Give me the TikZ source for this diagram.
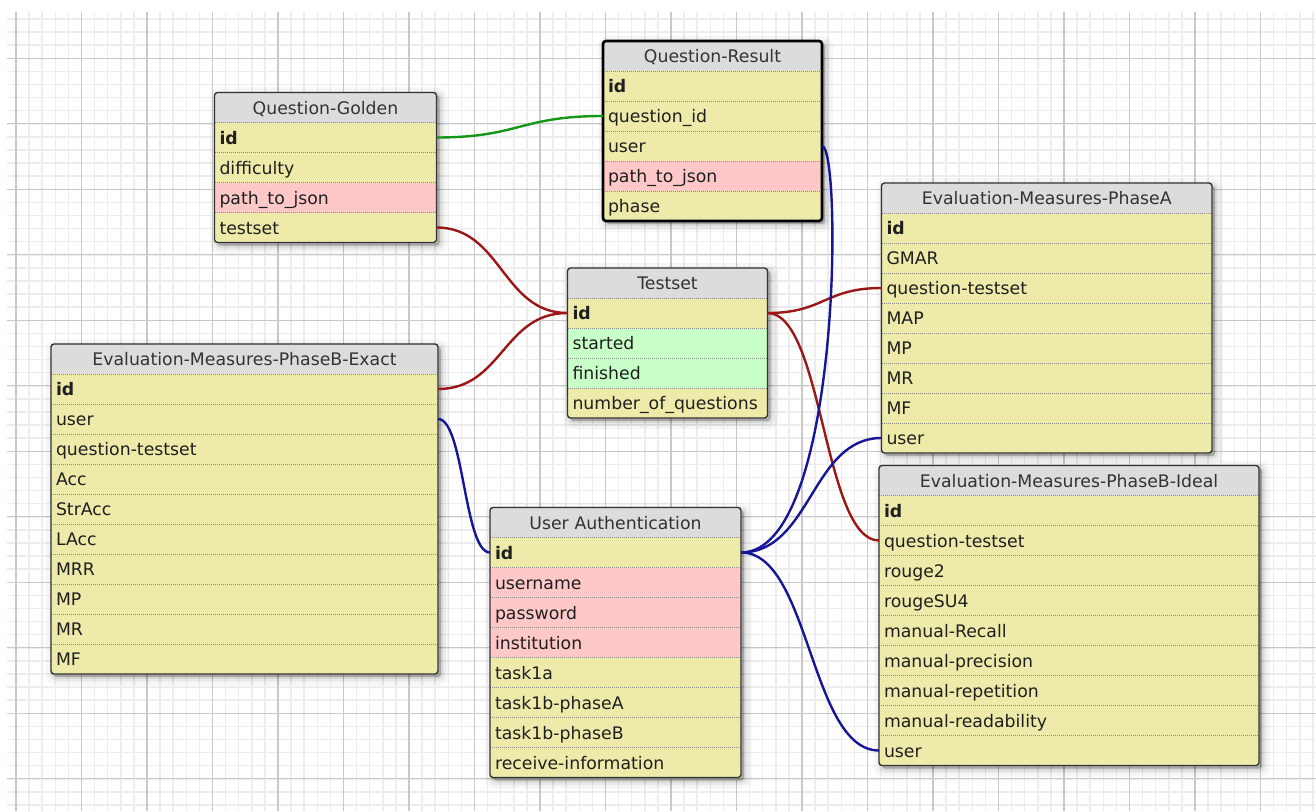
\documentclass[tikz,border=0pt]{standalone}
\usepackage{fontspec}
\setmainfont{DejaVu Sans}
\usetikzlibrary{positioning,shadows}

\definecolor{rowyellow}{RGB}{238,235,170}
\definecolor{rowpink}{RGB}{255,200,200}
\definecolor{rowgreen}{RGB}{200,255,200}
\definecolor{headgray}{RGB}{220,220,220}
\definecolor{linkred}{RGB}{155,22,22}
\definecolor{linkblue}{RGB}{22,22,150}
\definecolor{linkgreen}{RGB}{22,150,22}
\newcommand{\erfont}{\fontsize{17.3pt}{20pt}\selectfont}

\begin{document}
\begin{tikzpicture}[x=1pt,y=-1pt,node distance=0pt,
	gridminor/.style={draw=gray!14,line width=1.5pt},
	gridmajor/.style={draw=gray!42,line width=1.2pt},
	tablebox/.style={anchor=north west,inner sep=0pt,outer sep=0pt,fill=white,rounded corners=3pt,
		general shadow={fill=black,draw=black,line width=16pt,opacity=0.035,shadow xshift=3pt,shadow yshift=-3pt},
		general shadow={fill=black,draw=black,line width=9pt,opacity=0.05,shadow xshift=3pt,shadow yshift=-3pt},
		general shadow={fill=black,draw=black,line width=4pt,opacity=0.07,shadow xshift=3pt,shadow yshift=-3pt},
		general shadow={fill=black,opacity=0.1,shadow xshift=3pt,shadow yshift=-3pt}},
	tablehead/.style={anchor=north west,fill=headgray,text=black!80,font=\erfont,align=center,
		inner xsep=5pt,inner ysep=0pt,outer sep=0pt,minimum height=30pt,text height=13pt,text depth=0pt},
	field/.style={fill=rowyellow,text=black!88,font=\erfont,align=left,
		inner xsep=5pt,inner ysep=0pt,outer sep=0pt,minimum height=30pt,text height=13pt,text depth=0pt,
		append after command={(\tikzlastnode.north west) edge[sepline] (\tikzlastnode.north east)}},
	keyfield/.style={field,font=\erfont\bfseries},
	pinkfield/.style={field,fill=rowpink},
	greenfield/.style={field,fill=rowgreen},
	sepline/.style={draw=black!45,line width=0.8pt,dash pattern=on 1pt off 1pt},
	frame/.style={draw=black!80,line width=1.4pt,rounded corners=3pt},
	link/.style={line width=2.4pt}]
	\useasboundingbox (0,0) rectangle (1316,811);

	\begin{scope}
		\clip (7,12) rectangle (1316,811);
		\foreach \k in {0,...,99}
			\draw [gridminor] ({16+13.1*\k},12) -- ({16+13.1*\k},811);
		\foreach \k in {-3,...,57}
			\draw [gridminor] (7,{58.3+13.1*\k}) -- (1316,{58.3+13.1*\k});
		\foreach \k in {0,...,19}
			\draw [gridmajor] ({16+65.5*\k},12) -- ({16+65.5*\k},811);
		\foreach \k in {0,...,11}
			\draw [gridmajor] (7,{58.3+65.5*\k}) -- (1316,{58.3+65.5*\k});
	\end{scope}

	\begin{scope}[nodes={text width=212pt}]
		\node [tablebox,minimum width=222pt,minimum height=150pt] (qg) at (214.5,92.5) {};
		\node [tablehead] (qg-head) at (qg.north west) {Question-Golden};
		\node [keyfield,below=of qg-head] (qg-id) {id};
		\node [field,below=of qg-id] (qg-diff) {difficulty};
		\node [pinkfield,below=of qg-diff] (qg-path) {path\_to\_json};
		\node [field,below=of qg-path] (qg-ts) {testset};
		\draw [frame] (qg.north west) rectangle (qg.south east);
	\end{scope}

	\begin{scope}[nodes={text width=209pt}]
		\node [tablebox,minimum width=219pt,minimum height=180pt] (qr) at (603,41) {};
		\node [tablehead] (qr-head) at (qr.north west) {Question-Result};
		\node [keyfield,below=of qr-head] (qr-id) {id};
		\node [field,below=of qr-id] (qr-qid) {question\_id};
		\node [field,below=of qr-qid] (qr-user) {user};
		\node [pinkfield,below=of qr-user] (qr-path) {path\_to\_json};
		\node [field,below=of qr-path] (qr-phase) {phase};
		\draw [frame,draw=black,line width=2.6pt] (qr.north west) rectangle (qr.south east);
	\end{scope}

	\begin{scope}[nodes={text width=190pt}]
		\node [tablebox,minimum width=200pt,minimum height=150pt] (ts) at (567.5,268) {};
		\node [tablehead] (ts-head) at (ts.north west) {Testset};
		\node [keyfield,below=of ts-head] (ts-id) {id};
		\node [greenfield,below=of ts-id] (ts-start) {started};
		\node [greenfield,below=of ts-start] (ts-end) {finished};
		\node [field,below=of ts-end] (ts-num) {number\_of\_questions};
		\draw [frame] (ts.north west) rectangle (ts.south east);
	\end{scope}

	\begin{scope}[nodes={text width=320.5pt}]
		\node [tablebox,minimum width=330.5pt,minimum height=270pt] (pa) at (881.5,183) {};
		\node [tablehead] (pa-head) at (pa.north west) {Evaluation-Measures-PhaseA};
		\node [keyfield,below=of pa-head] (pa-id) {id};
		\node [field,below=of pa-id] (pa-gmar) {GMAR};
		\node [field,below=of pa-gmar] (pa-qts) {question-testset};
		\node [field,below=of pa-qts] (pa-map) {MAP};
		\node [field,below=of pa-map] (pa-mp) {MP};
		\node [field,below=of pa-mp] (pa-mr) {MR};
		\node [field,below=of pa-mr] (pa-mf) {MF};
		\node [field,below=of pa-mf] (pa-user) {user};
		\draw [frame] (pa.north west) rectangle (pa.south east);
	\end{scope}

	\begin{scope}[nodes={text width=377pt}]
		\node [tablebox,minimum width=387pt,minimum height=330pt] (pbe) at (51,344) {};
		\node [tablehead] (pbe-head) at (pbe.north west) {Evaluation-Measures-PhaseB-Exact};
		\node [keyfield,below=of pbe-head] (pbe-id) {id};
		\node [field,below=of pbe-id] (pbe-user) {user};
		\node [field,below=of pbe-user] (pbe-qts) {question-testset};
		\node [field,below=of pbe-qts] (pbe-acc) {Acc};
		\node [field,below=of pbe-acc] (pbe-stracc) {StrAcc};
		\node [field,below=of pbe-stracc] (pbe-lacc) {LAcc};
		\node [field,below=of pbe-lacc] (pbe-mrr) {MRR};
		\node [field,below=of pbe-mrr] (pbe-mp) {MP};
		\node [field,below=of pbe-mp] (pbe-mr) {MR};
		\node [field,below=of pbe-mr] (pbe-mf) {MF};
		\draw [frame] (pbe.north west) rectangle (pbe.south east);
	\end{scope}

	\begin{scope}[nodes={text width=241pt}]
		\node [tablebox,minimum width=251pt,minimum height=270pt] (ua) at (490,507.5) {};
		\node [tablehead] (ua-head) at (ua.north west) {User Authentication};
		\node [keyfield,below=of ua-head] (ua-id) {id};
		\node [pinkfield,below=of ua-id] (ua-name) {username};
		\node [pinkfield,below=of ua-name] (ua-pass) {password};
		\node [pinkfield,below=of ua-pass] (ua-inst) {institution};
		\node [field,below=of ua-inst] (ua-task) {task1a};
		\node [field,below=of ua-task] (ua-taska) {task1b-phaseA};
		\node [field,below=of ua-taska] (ua-taskb) {task1b-phaseB};
		\node [field,below=of ua-taskb] (ua-info) {receive-information};
		\draw [frame] (ua.north west) rectangle (ua.south east);
	\end{scope}

	\begin{scope}[nodes={text width=370pt}]
		\node [tablebox,minimum width=380pt,minimum height=300pt] (pbi) at (879,465.5) {};
		\node [tablehead] (pbi-head) at (pbi.north west) {Evaluation-Measures-PhaseB-Ideal};
		\node [keyfield,below=of pbi-head] (pbi-id) {id};
		\node [field,below=of pbi-id] (pbi-qts) {question-testset};
		\node [field,below=of pbi-qts] (pbi-r2) {rouge2};
		\node [field,below=of pbi-r2] (pbi-rsu) {rougeSU4};
		\node [field,below=of pbi-rsu] (pbi-rec) {manual-Recall};
		\node [field,below=of pbi-rec] (pbi-prec) {manual-precision};
		\node [field,below=of pbi-prec] (pbi-rep) {manual-repetition};
		\node [field,below=of pbi-rep] (pbi-read) {manual-readability};
		\node [field,below=of pbi-read] (pbi-user) {user};
		\draw [frame] (pbi.north west) rectangle (pbi.south east);
	\end{scope}

	\draw [link,linkgreen] (qg-id.east) .. controls +(83,0) and +(-83,0) .. (qr-qid.west);
	\draw [link,linkred] (qg-ts.east) .. controls +(65,0) and +(-65,0) .. (ts-id.west);
	\draw [link,linkred] (pbe-id.east) .. controls +(64.5,0) and +(-64.5,0) .. (ts-id.west);
	\draw [link,linkred] (ts-id.east) .. controls +(56.5,0) and +(-56.5,0) .. (pa-qts.west);
	\draw [link,linkred] (ts-id.east) .. controls +(55.5,0) and +(-55.5,0) .. (pbi-qts.west);
	\draw [link,linkblue] (pbe-user.east) .. controls +(26,0) and +(-26,0) .. (ua-id.west);
	\draw [link,linkblue] (qr-user.east) .. controls +(20,0) and +(101,0) .. (ua-id.east);
	\draw [link,linkblue] (ua-id.east) .. controls +(70,0) and +(-70,0) .. (pa-user.west);
	\draw [link,linkblue] (ua-id.east) .. controls +(69,0) and +(-69,0) .. (pbi-user.west);
\end{tikzpicture}
\end{document}
